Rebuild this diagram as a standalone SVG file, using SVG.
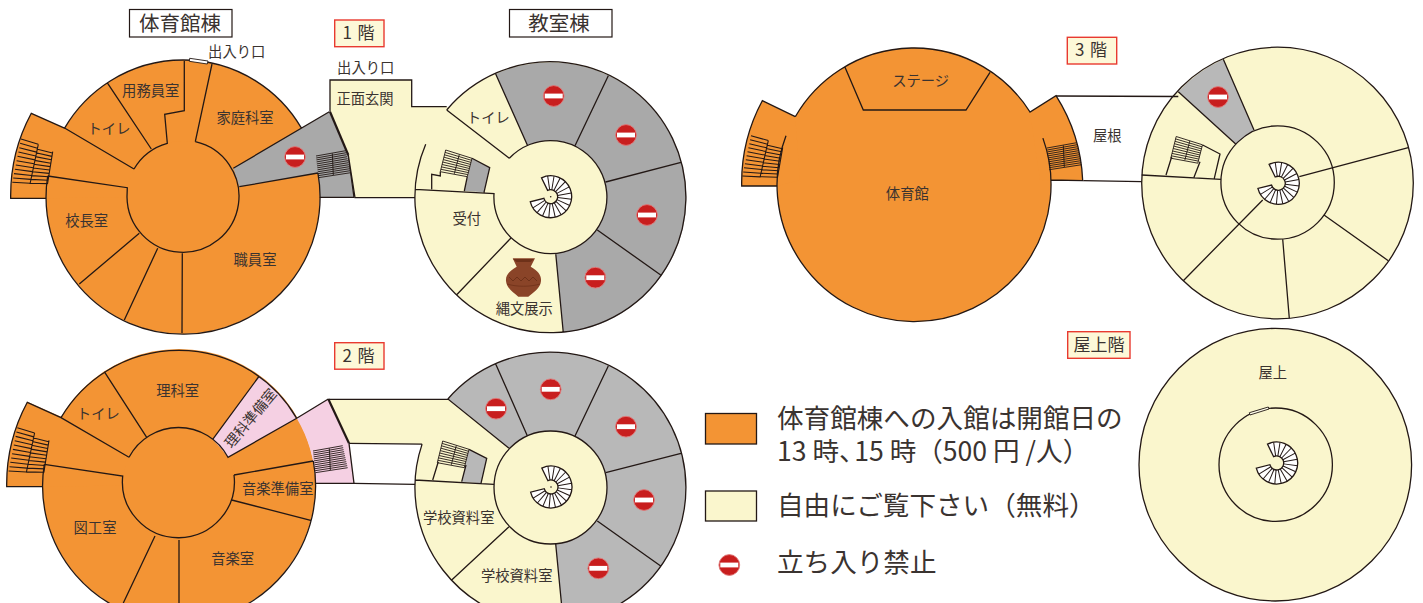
<svg xmlns="http://www.w3.org/2000/svg" xmlns:xlink="http://www.w3.org/1999/xlink" width="1423" height="603" viewBox="0 0 1423 603">
<style>
text{font-family:"Noto Sans CJK JP","Noto Sans",sans-serif;fill:#3a3330;text-anchor:middle;font-size:14.3px}
.l{fill:none;stroke:#231815;stroke-width:1.3;stroke-linejoin:miter}
.t{fill:none;stroke:#231815;stroke-width:2.2}
.s{fill:none;stroke:#231815;stroke-width:.9}
.o{fill:#f39434}.c{fill:#faf6cd}.g{fill:#a9a9a9}.g2{fill:#b8b8b8}.p{fill:#f5d0e3}
.box{fill:#fff;stroke:#231815;stroke-width:1.2}
.fl{fill:#fdf8d8;stroke:#e83a30;stroke-width:1.4}
.lg{font-size:26.6px;text-anchor:start}
.ti{font-size:20.5px}.ft{font-size:17px;word-spacing:2px}
</style>
<defs>
<g id="spiral">
<path d="M-9.2-18.9A21 21 0 1 1-20.4 5.1L-6.8 1.7A7 7 0 1 0-3.1-6.3Z" fill="#fff" stroke="#231815" stroke-width="1.3"/>
<g stroke="#231815" stroke-width="1">
<line y1="-7" y2="-21" transform="rotate(-8.4)"/><line y1="-7" y2="-21" transform="rotate(9.2)"/><line y1="-7" y2="-21" transform="rotate(26.8)"/><line y1="-7" y2="-21" transform="rotate(44.4)"/><line y1="-7" y2="-21" transform="rotate(62)"/><line y1="-7" y2="-21" transform="rotate(79.6)"/><line y1="-7" y2="-21" transform="rotate(97.2)"/><line y1="-7" y2="-21" transform="rotate(114.8)"/><line y1="-7" y2="-21" transform="rotate(132.4)"/><line y1="-7" y2="-21" transform="rotate(150)"/><line y1="-7" y2="-21" transform="rotate(167.6)"/><line y1="-7" y2="-21" transform="rotate(185.2)"/><line y1="-7" y2="-21" transform="rotate(202.8)"/><line y1="-7" y2="-21" transform="rotate(220.4)"/><line y1="-7" y2="-21" transform="rotate(238)"/>
</g>
</g>
<g id="noentry">
<circle r="10.4" fill="#c81e1e" stroke="#e07a7a" stroke-width=".9"/>
<rect x="-9" y="-2.4" width="18" height="4.8" fill="#fff"/>
</g>
<g id="stairL">
<path class="s" style="stroke-width:1.1" d="M21 139L38.3 144.3M20.100 143.300L37.500 148.200M19.300 147.700L36.600 152.100M18.400 152L35.800 156M17.500 156.300L35 159.900M16.600 160.700L34.100 163.800M15.800 165L33.300 167.700M14.900 169.300L32.500 171.600M14 173.600L31.600 175.500M13.200 178L30.800 179.400M12.300 182.300L30 183.300M36.600 149L52.400 153M35.900 152.800L51.900 156.400M35.200 156.600L51.300 159.800M34.400 160.400L50.800 163.200M33.700 164.200L50.200 166.600M33 168L49.700 170M32.300 171.800L49.100 173.400M31.600 175.600L48.600 176.800M30.800 179.400L48 180.200M30.100 183.200L47.500 183.600M38.300 144.300L30 184M52.700 151.700L47.500 184"/>
</g>
<g id="stairR">
<path class="s" d="M316 156L345.700 150.700M316.200 158L346.200 152.700M316.400 159.900L346.600 154.700M316.600 161.900L347.100 156.700M316.800 163.900L347.500 158.700M317 165.900L348 160.700M317.300 167.800L348.400 162.700M317.500 169.800L348.900 164.700M317.700 171.800L349.300 166.700M317.900 173.700L349.800 168.700M318.100 175.700L350.200 170.700M318.300 177.700L350.700 172.700M332.300 153.300L333.300 175"/>
</g>
<g id="stairI">
<path class="s" d="M445.700 150L472 158.300M445.100 152.400L471.500 160.300M444.500 154.800L471 162.400M443.900 157.200L470.400 164.400M443.300 159.600L469.900 166.500M442.700 162L469.400 168.500M442.100 164.500L468.900 170.500M441.500 166.900L468.400 172.600M440.900 169.300L467.800 174.600M440.300 171.700L467.300 176.700M445.700 150L440.300 171.700M472 158.300L467.300 176.700M459.300 154.500L454.300 173.800"/>
</g>
<path id="wingF" class="o" d="M31.300 113.300L65 128.300L134 169L127 197L46 198.300L10.700 198.300A173 173 0 0 1 31.300 113.300Z"/>
</defs>

<g id="floor1-gym">
<circle class="o" cx="183" cy="197" r="137"/>
<use xlink:href="#wingF" href="#wingF"/>
<path class="g" d="M233.300 168.300L329.300 111.700L348.300 155L354 197.300L320 197.300A137 137 0 0 0 317.900 173L239.300 186.700Z"/>
<circle class="o" cx="183" cy="197" r="56"/>
<use xlink:href="#stairL" href="#stairL"/>
<use xlink:href="#stairR" href="#stairR"/>
<path class="l" d="M317.900 173A137 137 0 1 1 47.700 176M64.600 128.100A137 137 0 0 1 301.300 127.900M195.300 141.700A56 56 0 1 1 127 197L127.300 187.700L47.700 176M134 169A56 56 0 0 1 167.300 143.300L164.700 114.300L184.300 110.700L184.300 60.700M134 169L65 128.300L31.300 113.300A173 173 0 0 0 10.700 198.300L46 198.300M107.700 83.300L151.300 149M212 64L195.300 141.700M139.300 233.300L79.300 284M157.700 248.300L124.300 320M182.300 253.300L182 333M239.300 186.700L317.900 173M233.300 168.300L329.300 111.700M348.300 155L354 197.300L319.300 197.300"/>
<path d="M189.700 58.300L208 61L207.300 64L189.300 61.300Z" fill="#fff" stroke="#231815" stroke-width=".9"/>
<use xlink:href="#noentry" href="#noentry" x="295" y="157"/>
</g>

<g id="floor1-class">
<path class="c" d="M330 80L411.700 80L411.700 106.700L449 106.700L509.300 158.300L494 193.700L415 197.700L355 197.700L348.300 155L330 111.700Z"/>
<circle class="c" cx="550.500" cy="197" r="135.500"/>
<path class="g" d="M527.300 145L495.700 74A135.500 135.500 0 1 1 563.300 332.700L555.700 253.300Z"/>
<circle class="c" cx="550.500" cy="197" r="56.500"/>
<path class="g" d="M472 158.300L489.700 167.700L484 192.300L464.300 191Z"/>
<use xlink:href="#stairI" href="#stairI"/>
<path class="t" d="M330 111.700L348.300 155"/>
<path class="l" d="M330 111.700L330 80L411.700 80L411.700 106.700L446.700 106.700M348.300 155L355 197.700L415 197.700M446.700 110A135.500 135.500 0 1 1 425.700 144.200M446.700 110L509.300 158.300M509.300 158.300A56.500 56.500 0 1 1 494 193.700L415 189.300M495.700 74L527.300 145M608.300 75.700L575 145.700M681 162.300L605.700 182M660.700 275L597.300 230M563.300 332.700L555.700 253.300M510.700 238.300L456.700 294.700M431.700 189.300L431.700 174.300L440.300 176L440.300 171.700M472 158.300L489.700 167.700L484 192.300M464.300 191L467.300 176.700"/>
<use xlink:href="#spiral" href="#spiral" x="550.700" y="196.700"/>
<circle cx="550.700" cy="196.700" r=".8" fill="#231815"/>
<use xlink:href="#noentry" href="#noentry" x="553.700" y="96"/>
<use xlink:href="#noentry" href="#noentry" x="626" y="135"/>
<use xlink:href="#noentry" href="#noentry" x="647" y="215"/>
<use xlink:href="#noentry" href="#noentry" x="595.300" y="277.700"/>
<g id="jar">
<path d="M512.700 258.300L535 258.300L530.700 266.700C538 271 541.500 275 541 281C540.500 288 534 292 528.300 296.700L518.300 296.700C513 292 506.500 288 506 281C505.500 275 509.500 271 516.700 266.700Z" fill="#8a4428"/>
<path d="M513 259L534 259L530.500 262L516.500 262Z" fill="#6e3119"/>
<path d="M509 277L513 281L517 277L521 281L525 277L529 281L533 277L537 281" fill="none" stroke="#6e3119" stroke-width="1"/>
<path d="M507 284C517 287 530 287 540 284" fill="none" stroke="#6e3119" stroke-width=".8"/>
</g>
</g>

<g id="floor2-gym">
<circle class="o" cx="179" cy="485.500" r="136.500"/>
<use xlink:href="#wingF" href="#wingF" transform="translate(-4 288.400)"/>
<path class="p" d="M228 457.300L212.700 439.300L259.300 376A136.500 136.500 0 0 1 296.700 418.300Z"/>
<path class="p" d="M296.700 418.300L328.300 399L349 443.300L354 483.300L315.500 483.300A136.500 136.500 0 0 0 296.700 418.300Z"/>
<circle class="o" cx="178.500" cy="485" r="56"/>
<use xlink:href="#stairL" href="#stairL" transform="translate(-3.700 288.700)"/>
<use xlink:href="#stairR" href="#stairR" transform="translate(-3 295)"/>
<path class="l" d="M313.300 461A136.500 136.500 0 1 1 44.300 464.300M61 417.700A136.500 136.500 0 0 1 296.700 418.300M234 475A56 56 0 1 1 122.700 476L44.300 464.300M129 457.300A56 56 0 0 1 228 457.300L296.700 418.300L328.300 399M129 457.300L61 417.700L27.300 402.300A173 173 0 0 0 6.700 486.700L42.700 486.700M104.300 371.700L146.700 437.300M259.300 376L212.700 439.300M234 475L313.300 461M231.700 500L310.700 520.300M155 536L123.300 603M179 540L179 603M349 443.300L354 483.300L315 483.300"/>
</g>

<g id="floor2-class">
<path class="c" d="M328.300 399.300L448.300 399.300L509 448.300L494 484.300L415 480L421.700 444L349 443.300Z"/>
<circle class="c" cx="550.500" cy="487.500" r="135.500"/>
<path class="g2" d="M509 448.300L447.900 399A135.500 135.500 0 1 1 563.300 622.400L555.700 544Z"/>
<circle class="c" cx="550.500" cy="487.500" r="56.500"/>
<path class="g2" d="M469 449.300L486.700 458.300L481 483.300L461.700 481.700Z"/>
<use xlink:href="#stairI" href="#stairI" transform="translate(-3 291)"/>
<path class="t" d="M328.300 399L349 443.300"/>
<path class="l" d="M328.300 399.300L448.300 399.300L509 448.300M349 443.300L422.100 444.100M447.900 399A135.500 135.500 0 1 1 422.100 444.100M415 480L494 484.300M354 483.300L415 484.300M432.700 480L438.300 461.700M469 449.300L486.700 458.300L481 483.300M461.700 481.700L466 465M495.700 364L527.300 435.700M608.300 366L575 436M681 453.300L605.700 472.700M660.700 566L597.300 521M563.300 622.500L555.700 544M509 526.700L451.700 580"/>
<circle class="l" cx="550.500" cy="487.500" r="56.500"/>
<use xlink:href="#spiral" href="#spiral" x="551" y="487"/>
<circle cx="551" cy="487" r=".8" fill="#231815"/>
<use xlink:href="#noentry" href="#noentry" x="550.700" y="389.300"/>
<use xlink:href="#noentry" href="#noentry" x="496" y="408.700"/>
<use xlink:href="#noentry" href="#noentry" x="626" y="426.700"/>
<use xlink:href="#noentry" href="#noentry" x="644" y="500"/>
<use xlink:href="#noentry" href="#noentry" x="598.300" y="568.300"/>
</g>

<g id="floor3-gym">
<circle class="o" cx="914" cy="184.700" r="137"/>
<path class="o" d="M762.300 100.700L795.300 116.700L800 180L777.300 186L741.700 186A172.500 172.500 0 0 1 762.300 100.700Z"/>
<path class="o" d="M1030 112L1056 95.700A172 172 0 0 1 1082.700 180.700L1040 180Z"/>
<use xlink:href="#stairL" href="#stairL" transform="matrix(1 0 0 .93 730 6.400)"/>
<use xlink:href="#stairR" href="#stairR" transform="translate(731 -8)"/>
<path class="l" d="M795.300 116.700A137 137 0 0 1 1030 112L1056 95.700A172 172 0 0 1 1082.700 180.700L1050.700 180M1042.900 138.100A137 137 0 1 1 786 135.800M795.300 116.700L762.300 100.700A172.500 172.500 0 0 0 741.700 186L777.300 186M845 67.300L863.300 110L966 110L990 72.300"/>
</g>

<g id="floor3-class">
<circle class="c" cx="1277.500" cy="183" r="135.800"/>
<path class="g2" d="M1178.300 91.700A135.800 135.800 0 0 1 1223.300 59.300L1254 130L1235.700 144Z"/>
<use xlink:href="#stairI" href="#stairI" transform="translate(730.500 -13.500)"/>
<path class="l" d="M1056 96L1178.300 96.500M1083.300 180.700L1141.700 181.700M1178.300 91.700L1235.700 144M1223.300 59.300L1254 130M1141.700 175L1221 179.300M1166 175L1171.700 156.700M1194 177.300L1200 161.700M1202.700 145L1220 154L1214.300 178.300M1408.300 147.700L1299.300 176.700M1324 215L1388.300 260.700M1282.700 239.300L1289.300 318.300M1183.300 280.700L1262.700 200"/>
<circle class="l" cx="1277.500" cy="183" r="135.800"/>
<circle class="l" cx="1277.600" cy="182.500" r="56.700"/>
<use xlink:href="#spiral" href="#spiral" x="1278.300" y="183.300"/>
<use xlink:href="#noentry" href="#noentry" x="1218" y="97"/>
</g>

<g id="rooftop">
<circle class="c" cx="1275.300" cy="464.700" r="136.300"/>
<circle class="l" cx="1275.300" cy="464.700" r="136.300"/>
<circle class="l" cx="1275.700" cy="464.700" r="56.700"/>
<path d="M1249.300 412.700L1268.300 407L1269 409L1250 415Z" fill="#fdfbe8" stroke="#231815" stroke-width=".9"/>
<use xlink:href="#spiral" href="#spiral" x="1276.700" y="463"/>
</g>

<g id="legend">
<rect class="o" x="705.500" y="413.500" width="51" height="30.500" stroke="#231815" stroke-width="1.3"/>
<rect class="c" x="705.500" y="491" width="51" height="30" stroke="#231815" stroke-width="1.3"/>
<use xlink:href="#noentry" href="#noentry" x="729.300" y="565"/>
<text class="lg" x="777" y="428">体育館棟への入館は開館日の</text>
<text class="lg" x="777" y="461">13 時<tspan style="letter-spacing:-11.5px">、</tspan>15 時（500 円 /人）</text>
<text class="lg" x="777" y="515">自由にご覧下さい（無料）</text>
<text class="lg" x="777" y="572">立ち入り禁止</text>
</g>

<g id="titles">
<rect class="box" x="129.500" y="9.500" width="102.500" height="27.500"/>
<text class="ti" x="180" y="31">体育館棟</text>
<rect class="box" x="509.500" y="9.500" width="102.500" height="27.500"/>
<text class="ti" x="559" y="31">教室棟</text>
<rect class="fl" x="334.700" y="20" width="49.300" height="26.700"/><text class="ft" x="358.500" y="39">1 階</text>
<rect class="fl" x="334.700" y="342.700" width="49.300" height="26.500"/><text class="ft" x="358.500" y="361.500">2 階</text>
<rect class="fl" x="1067.300" y="37.300" width="49.400" height="26.700"/><text class="ft" x="1091" y="56">3 階</text>
<rect class="fl" x="1067.700" y="331.700" width="62.300" height="26.600"/><text class="ft" x="1099" y="351">屋上階</text>
</g>

<g id="labels">
<text x="236.700" y="57">出入り口</text>
<text x="150.700" y="96">用務員室</text>
<text x="109" y="133.500">トイレ</text>
<text x="245" y="123">家庭科室</text>
<text x="86.700" y="226">校長室</text>
<text x="255" y="264.500">職員室</text>
<text x="365.700" y="73">出入り口</text>
<text x="365" y="103.500">正面玄関</text>
<text x="488.300" y="122.500">トイレ</text>
<text x="466.700" y="223.500">受付</text>
<text x="524.300" y="314">縄文展示</text>
<text x="177.700" y="396">理科室</text>
<text x="98.300" y="418.500">トイレ</text>
<text transform="translate(250.700 418.300) rotate(-50)" y="5">理科準備室</text>
<text x="277.700" y="494">音楽準備室</text>
<text x="232.700" y="564">音楽室</text>
<text x="95" y="533">図工室</text>
<text x="458.700" y="522.500">学校資料室</text>
<text x="516.700" y="580.500">学校資料室</text>
<text x="920.700" y="86">ステージ</text>
<text x="907.300" y="199">体育館</text>
<text x="1107.300" y="141">屋根</text>
<text x="1272.700" y="378">屋上</text>
</g>
</svg>
